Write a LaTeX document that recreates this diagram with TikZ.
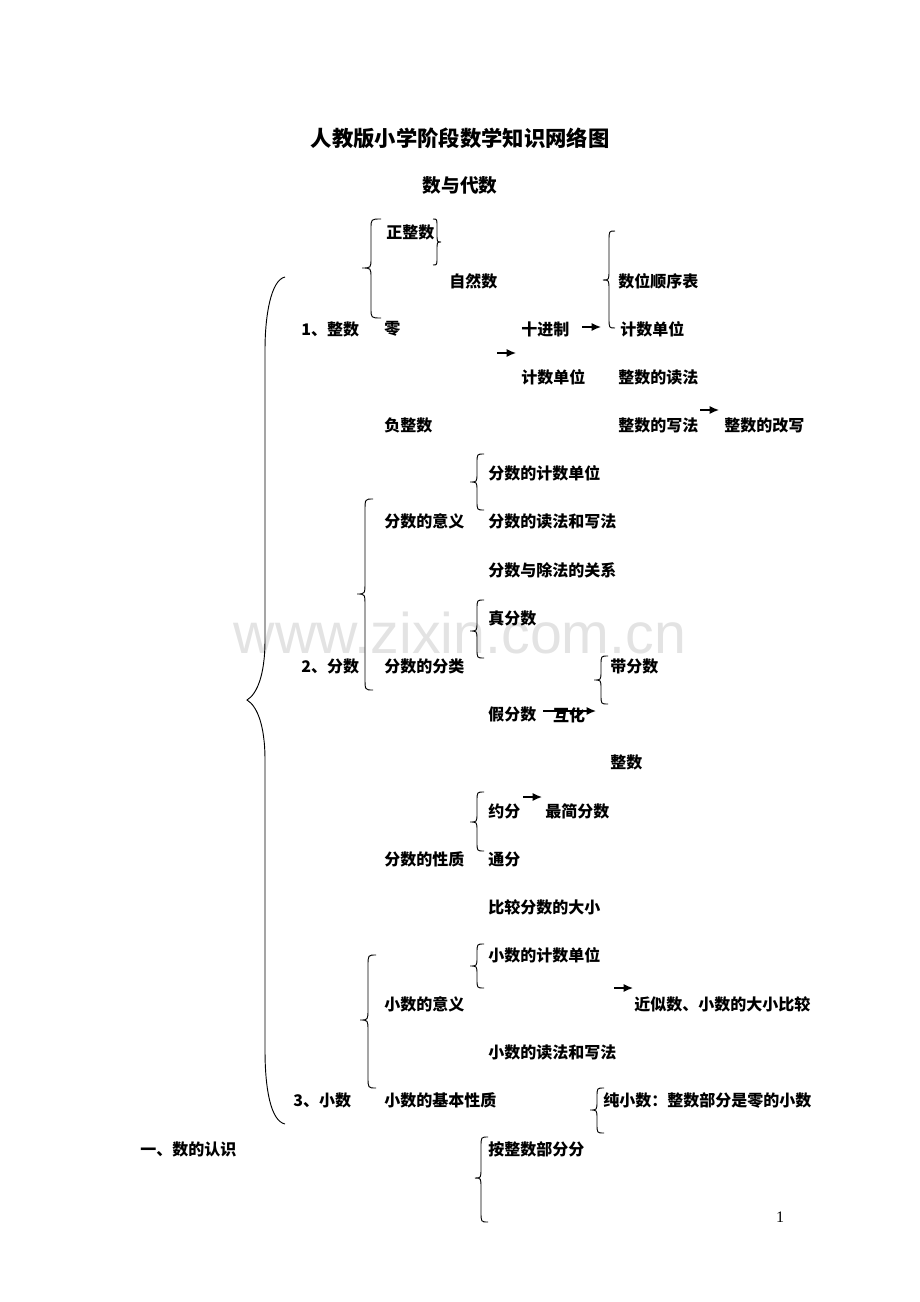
\documentclass[tikz,border=0pt]{standalone}
\usepackage{fontspec}
\setmainfont{Liberation Serif}
\newfontfamily\hei{Noto Sans CJK SC}
\newfontfamily\wmfont{Liberation Sans}
\usetikzlibrary{arrows.meta, positioning}

\tikzset{
	item/.style={anchor=west, inner sep=0pt, font=\hei\bfseries\fontsize{12pt}{12pt}\selectfont},
	link/.style={-{Latex[length=7pt,width=6pt]}, line width=1pt},
	brace/.style={line width=0.7pt}
}

% brace: tip x, line x, end x, top y, tip y, bottom y, curl
\newcommand{\wbrace}[7]{%
	\draw[brace] (#3,#4) .. controls (#2,#4) .. (#2,#4+#7) -- (#2,#5-#7)
		.. controls (#2,#5) .. (#1,#5) .. controls (#2,#5) .. (#2,#5+#7)
		-- (#2,#6-#7) .. controls (#2,#6) .. (#3,#6);}

\begin{document}
\begin{tikzpicture}[x=0.75pt, y=-0.75pt]
	\useasboundingbox (0,0) rectangle (920,1302);
	
	% watermark
	\node[text=black!11, font=\wmfont\fontsize{43pt}{43pt}\selectfont] (wm) at (460,633) {www.zixin.com.cn};
	
	\node[font=\hei\bfseries\fontsize{16pt}{16pt}\selectfont] (title) at (460,138) {人教版小学阶段数学知识网络图};
	\node[font=\hei\bfseries\fontsize{14pt}{14pt}\selectfont] (sub) at (460,185) {数与代数};
	
	% 整数
	\node[item] (zzs) at (386,232) {正整数};
	\node[item] (zrs) at (449,281) {自然数};
	\node[item] (zs) at (301,329) {1、整数};
	\node[item] (ling) at (384,329) {零};
	\node[item] (sjz) at (521,329) {十进制};
	\node[item] (jsdwa) at (620,329) {计数单位};
	\node[item] (swsx) at (618,281) {数位顺序表};
	\node[item] (jsdwb) at (521,377) {计数单位};
	\node[item] (zsdf) at (618,377) {整数的读法};
	\node[item] (fzs) at (384,425) {负整数};
	\node[item] (zsxf) at (618,425) {整数的写法};
	\node[item] (zsgx) at (724,425) {整数的改写};
	
	% 分数
	\node[item] (fsjs) at (488,473) {分数的计数单位};
	\node[item] (fsyy) at (384,521) {分数的意义};
	\node[item] (fsdx) at (488,521) {分数的读法和写法};
	\node[item] (fscf) at (488,570) {分数与除法的关系};
	\node[item] (zfs) at (488,618) {真分数};
	\node[item] (fs) at (301,666) {2、分数};
	\node[item] (fsfl) at (384,666) {分数的分类};
	\node[item] (dfs) at (610,666) {带分数};
	\node[item] (jfs) at (488,714) {假分数};
	\node[item] (zsb) at (610,762) {整数};
	\node[item] (yf) at (488,811) {约分};
	\node[item] (zjfs) at (545,811) {最简分数};
	\node[item] (fsxz) at (384,859) {分数的性质};
	\node[item] (tf) at (488,859) {通分};
	\node[item] (bjfs) at (488,907) {比较分数的大小};
	
	% 小数
	\node[item] (xsjs) at (488,955) {小数的计数单位};
	\node[item] (xsyy) at (384,1004) {小数的意义};
	\node[item] (jss) at (634,1004) {近似数、小数的大小比较};
	\node[item] (xsdx) at (488,1052) {小数的读法和写法};
	\node[item] (xs) at (293,1100) {3、小数};
	\node[item] (xsxz) at (384,1100) {小数的基本性质};
	\node[item] (cxs) at (603,1100) {纯小数：整数部分是零的小数};
	\node[item] (sdrs) at (140,1149) {一、数的认识};
	\node[item] (azs) at (488,1149) {按整数部分分};
	
	\node[font=\fontsize{12pt}{12pt}\selectfont] (page) at (780,1217) {1};
	
	% arrows
	\coordinate (a1s) at (582,327); \coordinate (a1e) at (601,327);
	\coordinate (a2s) at (497,353); \coordinate (a2e) at (516,353);
	\coordinate (a3s) at (700,410); \coordinate (a3e) at (719,410);
	\coordinate (a4s) at (543,711); \coordinate (a4e) at (596,711);
	\coordinate (a5s) at (523,797); \coordinate (a5e) at (542,797);
	\coordinate (a6s) at (614,988); \coordinate (a6e) at (633,988);
	\draw[link] (a1s) -- (a1e);
	\draw[link] (a2s) -- (a2e);
	\draw[link] (a3s) -- (a3e);
	\draw[link] (a4s) -- (a4e);
	\draw[link] (a5s) -- (a5e);
	\draw[link] (a6s) -- (a6e);
	\node[item, anchor=center] (hh) at (569,715) {互化};
	
	% big brace
	\draw[brace] (285,277) .. controls (271,280) and (265,315) .. (265,350) -- (265,640)
		.. controls (265,675) and (257,694) .. (247,700) .. controls (257,706) and (265,725) .. (265,760)
		-- (265,1050) .. controls (265,1090) and (271,1121) .. (285,1124);
	% small braces
	\wbrace{362}{371}{381}{219}{268}{318}{10}
	\wbrace{441}{437}{433}{219}{242}{265}{8}
	\wbrace{603}{609}{615}{231}{280}{328}{10}
	\wbrace{357}{365}{373}{499}{594}{690}{12}
	\wbrace{470}{477}{484}{454}{482}{510}{9}
	\wbrace{470}{477}{484}{600}{631}{658}{9}
	\wbrace{594}{601}{608}{656}{680}{704}{9}
	\wbrace{470}{477}{484}{792}{822}{851}{9}
	\wbrace{360}{368}{376}{955}{1020}{1088}{11}
	\wbrace{470}{477}{484}{944}{966}{988}{9}
	\wbrace{590}{597}{604}{1088}{1110}{1133}{9}
	\wbrace{475}{481}{488}{1137}{1178}{1222}{10}
\end{tikzpicture}
\end{document}
